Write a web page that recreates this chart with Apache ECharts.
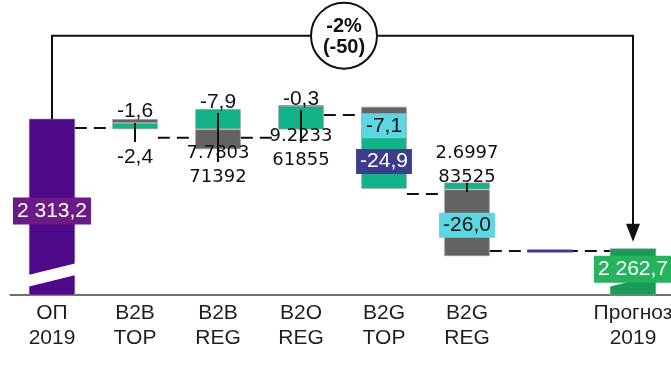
<!DOCTYPE html>
<html>
<head>
<meta charset="utf-8">
<script src="https://cdn.jsdelivr.net/npm/echarts@6/dist/echarts.min.js"></script>
<style>
html,body{margin:0;padding:0;background:#fff}
#chart{width:671px;height:378px}
</style>
</head>
<body>
<div id="chart"></div>
<script>
// Bridge of the 2019 plan to the 2019 forecast
const categories = ['ОП\n2019', 'B2B\nTOP', 'B2B\nREG', 'B2O\nREG', 'B2G\nTOP', 'B2G\nREG', '', 'Прогноз\n2019'];
const valueMin = 2244.7;
const valueMax = 2359.5;

// start and end totals, and where their broken-axis cut sits
const totals  = [2313.2, null, null, null, null, null, null, 2262.7];
const breakAt = [2252.5, null, null, null, null, null, null, 2252.5];

// each step block: its upper edge and its two stacked changes
const stepTop   = [null, 2313.2, 2317.1, 2318.6, 2318.0, 2288.5, 2262.4, null];
const upperStep = [null, -1.6, -7.9, -0.3, -7.1, 2.699783525, null, null];
const lowerStep = [null, -2.4, 7.780371392, 9.223361855, -24.9, -26.0, -1.2, null];

// dashed bridges between neighbouring blocks
const bridgeFrom  = [0, 1, 2, 3, 4, 5];
const bridgeTo    = [1, 2, 3, 4, 5, 7];
const bridgeLevel = [2309.7, 2305.9, 2305.9, 2314.75, 2284.0, 2261.8];

// vertical range ticks through the step blocks
const whiskerCat  = [1, 2, 3, 5];
const whiskerLow  = [2304.2, 2296.5, 2303.9, 2284.8];
const whiskerHigh = [2311.6, 2315.5, 2316.7, 2288.3];

// level of the overall-change bracket
const bracketLevel = 2345.6;

// ---- styling ----
const C = {
  purple: '#4c0a8b', purpleTag: '#6b1a86',
  green: '#12b388', gray: '#636363',
  cyan: '#5dd6e4', navy: '#3f3b8d', thin: '#3f3a92',
  forecast: '#1a9b58', forecastTag: '#25b35e'
};
const BAR = 0.55;
const SANS = '"Liberation Sans", Arial, sans-serif';
const upperColor = [null, C.gray, C.green, C.green, C.gray, C.green, null, null];
const lowerColor = [null, C.green, C.gray, C.green, C.green, C.gray, C.thin, null];
const upperLabel = [null,
  { position: 'top', offset: [0, 3] },
  { position: 'top', offset: [0, 4] },
  { position: 'top', offset: [0, 5] },
  { position: 'inside', offset: [0, 10], tag: C.cyan },
  { position: 'top', offset: [0, 6.5] },
  null, null];
const lowerLabel = [null,
  { position: 'bottom', offset: [0, 17] },
  { position: 'bottom', offset: [0, -7.5] },
  { position: 'bottom', offset: [0, -4.8] },
  { position: 'inside', offset: [0, 4.6], tag: C.navy, color: '#fff' },
  { position: 'inside', offset: [0, 2.5], tag: C.cyan },
  null, null];
const totalStyle = {
  0: { fill: C.purple, tag: C.purpleTag, dy: 4 },
  7: { fill: C.forecast, tag: C.forecastTag, dy: -2.5 }
};

function isRaw(v) {
  const dec = String(v).split('.')[1] || '';
  return dec.length > 1;
}
function stepText(v) {
  const s = String(v);
  if (isRaw(v)) return s.slice(0, 6) + '\n' + s.slice(6);
  return v.toFixed(1).replace('.', ',');
}
function totalText(v) {
  const parts = v.toFixed(1).split('.');
  return parts[0].replace(/\B(?=(\d{3})+(?!\d))/g, ' ') + ',' + parts[1];
}

function segItem(v, color, lab) {
  if (v == null) return '-';
  const item = {
    value: Math.abs(v),
    itemStyle: { color: color, borderColor: color === C.thin ? color : 'rgba(150,150,150,0.7)', borderWidth: color === C.thin ? 0 : 1 }
  };
  if (!lab) { item.label = { show: false }; return item; }
  const raw = isRaw(v);
  item.label = {
    show: true,
    position: lab.position,
    offset: lab.offset,
    distance: 0,
    formatter: stepText(v),
    fontFamily: raw ? '"DejaVu Sans", sans-serif' : SANS,
    fontSize: raw ? 18 : 21,
    lineHeight: raw ? 24 : 21,
    color: lab.color || '#111',
    backgroundColor: lab.tag || 'transparent',
    padding: lab.tag ? [2, 4] : 0
  };
  return item;
}

const baseData = categories.map((_, i) => stepTop[i] == null ? '-' :
  stepTop[i] - Math.abs(upperStep[i] || 0) - Math.abs(lowerStep[i] || 0));
const lowerData = categories.map((_, i) => segItem(lowerStep[i], lowerColor[i], lowerLabel[i]));
const upperData = categories.map((_, i) => segItem(upperStep[i], upperColor[i], upperLabel[i]));

const totalData = [];
totals.forEach((v, i) => { if (v != null) totalData.push([i, v, breakAt[i]]); });
const bridgeData = bridgeFrom.map((f, k) => [f, bridgeTo[k], bridgeLevel[k]]);
const whiskerData = whiskerCat.map((c, k) => [c, whiskerLow[k], whiskerHigh[k]]);
const firstIdx = 0, lastIdx = categories.length - 1;
const bracketData = [[firstIdx, lastIdx, bracketLevel, totals[firstIdx], totals[lastIdx]]];

const chart = echarts.init(document.getElementById('chart'), null, { renderer: 'canvas' });
chart.setOption({
  animation: false,
  grid: { left: 10.5, right: -3.5, top: 0, bottom: 83, containLabel: false, outerBoundsMode: 'none' },
  xAxis: {
    type: 'category',
    data: categories,
    axisLine: { lineStyle: { color: '#6e6e6e', width: 2 } },
    axisTick: { show: false },
    axisLabel: { interval: 0, fontFamily: SANS, fontSize: 21, lineHeight: 25, color: '#1f1f1f', margin: 6 }
  },
  yAxis: { type: 'value', min: valueMin, max: valueMax, show: false },
  series: [
    {
      type: 'custom', z: 1, silent: true,
      data: bridgeData,
      encode: { x: [0, 1], y: 2 },
      renderItem(params, api) {
        const a = api.coord([api.value(0), api.value(2)]);
        const b = api.coord([api.value(1), api.value(2)]);
        const half = api.size([1, 0])[0] * BAR / 2;
        return {
          type: 'line',
          shape: { x1: a[0] + half, y1: a[1], x2: b[0] - half, y2: b[1] },
          style: { stroke: '#111', lineWidth: 2, lineDash: [12, 7] }
        };
      }
    },
    { type: 'bar', stack: 'bridge', barWidth: '55%', data: baseData, itemStyle: { color: 'transparent' }, silent: true },
    { type: 'bar', stack: 'bridge', barWidth: '55%', data: lowerData },
    { type: 'bar', stack: 'bridge', barWidth: '55%', data: upperData },
    {
      type: 'custom', z: 2,
      data: totalData,
      encode: { x: 0, y: 1 },
      renderItem(params, api) {
        const i = api.value(0), v = api.value(1), br = api.value(2);
        const top = api.coord([i, v]);
        const bottom = api.coord([i, valueMin]);
        const w = api.size([1, 0])[0] * BAR;
        const x0 = top[0] - w / 2, x1 = top[0] + w / 2;
        const by = api.coord([i, br])[1];
        const s = totalStyle[i];
        const rise = 11.7, thick = 11.7;
        return {
          type: 'group',
          children: [
            { type: 'rect', shape: { x: x0, y: top[1], width: w, height: bottom[1] - top[1] },
              style: { fill: s.fill, stroke: 'rgba(160,160,160,0.6)', lineWidth: 1 } },
            { type: 'polygon', shape: { points: [[x0 - 1, by], [x1 + 1, by - rise], [x1 + 1, by - rise + thick], [x0 - 1, by + thick]] },
              style: { fill: '#fff' } },
            { type: 'text', z2: 10,
              style: { text: totalText(v), x: top[0], y: (top[1] + bottom[1]) / 2 + s.dy,
                align: 'center', verticalAlign: 'middle', fill: '#fff',
                font: '21px ' + SANS, backgroundColor: s.tag, padding: [3, 4] } }
          ]
        };
      }
    },
    {
      type: 'custom', z: 3, silent: true,
      data: whiskerData,
      encode: { x: 0, y: [1, 2] },
      renderItem(params, api) {
        const lo = api.coord([api.value(0), api.value(1)]);
        const hi = api.coord([api.value(0), api.value(2)]);
        return {
          type: 'line',
          shape: { x1: lo[0], y1: lo[1], x2: hi[0], y2: hi[1] },
          style: { stroke: '#111', lineWidth: 2 }
        };
      }
    },
    {
      type: 'custom', z: 4, silent: true,
      data: bracketData,
      encode: { x: [0, 1], y: [2, 3, 4] },
      renderItem(params, api) {
        const from = api.value(3), to = api.value(4);
        const a = api.coord([api.value(0), from]);
        const b = api.coord([api.value(1), to]);
        const yL = api.coord([api.value(0), api.value(2)])[1];
        const tip = b[1] - 7, head = 18;
        const mid = (a[0] + b[0]) / 2 + 1.5;
        const pct = Math.round((to - from) / from * 100);
        const diff = Math.round(to - from);
        return {
          type: 'group',
          children: [
            { type: 'polyline', shape: { points: [[a[0], a[1]], [a[0], yL], [b[0], yL], [b[0], tip - head + 1]] },
              style: { stroke: '#111', lineWidth: 2, fill: null } },
            { type: 'polygon', shape: { points: [[b[0] - 7, tip - head], [b[0] + 7, tip - head], [b[0], tip]] },
              style: { fill: '#111' } },
            { type: 'circle', shape: { cx: mid, cy: yL, r: 33 },
              style: { fill: '#fff', stroke: '#111', lineWidth: 2 } },
            { type: 'text',
              style: { text: pct + '%\n(' + diff + ')', x: mid, y: yL + 1, align: 'center', verticalAlign: 'middle',
                fill: '#111', font: 'bold 20px ' + SANS, lineHeight: 21 } }
          ]
        };
      }
    }
  ]
});
</script>
</body>
</html>
